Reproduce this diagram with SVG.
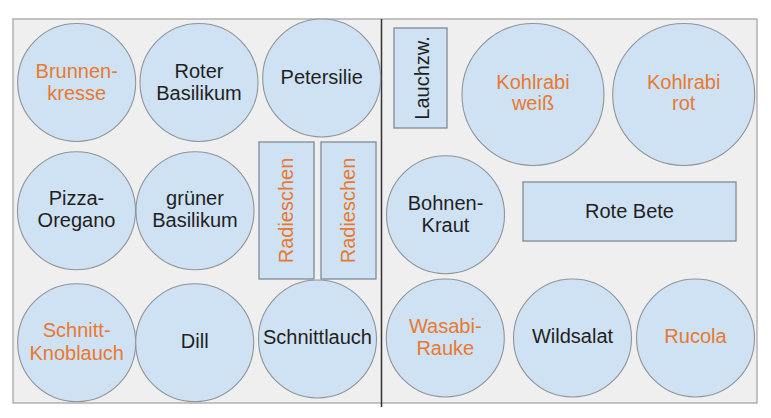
<svg xmlns="http://www.w3.org/2000/svg" width="771" height="418" viewBox="0 0 771 418">
<style>
  .bed { fill: #efefef; stroke: #a6a6a6; stroke-width: 1.3; }
  .c { fill: #cfe2f3; stroke: #8f9499; stroke-width: 1.1; }
  .r { fill: #cfe2f3; stroke: #7f8a94; stroke-width: 1.3; }
  text { font-family: "Liberation Sans", Arial, sans-serif; font-size: 20px; text-anchor: middle; }
  .d { fill: #1f1f1f; }
  .o { fill: #e8792f; }
</style>
<rect width="771" height="418" fill="#ffffff"/>
<g id="bed">
  <rect class="bed" x="13" y="19" width="744" height="384"/>
  <line x1="381.5" y1="19" x2="381.5" y2="407" stroke="#333333" stroke-width="1.5"/>
</g>
<g id="connectors"></g>

<g id="brunnenkresse">
  <circle class="c" cx="76.7" cy="82.5" r="59"/>
  <text class="o" x="76.7" y="78">Brunnen-</text>
  <text class="o" x="76.7" y="100">kresse</text>
</g>
<g id="roter-basilikum">
  <circle class="c" cx="199" cy="82.5" r="59"/>
  <text class="d" x="199" y="78">Roter</text>
  <text class="d" x="199" y="100">Basilikum</text>
</g>
<g id="petersilie">
  <circle class="c" cx="321.7" cy="78" r="59"/>
  <text class="d" x="321.7" y="84">Petersilie</text>
</g>
<g id="pizza-oregano">
  <circle class="c" cx="76.5" cy="210.7" r="59"/>
  <text class="d" x="76.5" y="204.5">Pizza-</text>
  <text class="d" x="76.5" y="226.5">Oregano</text>
</g>
<g id="gruener-basilikum">
  <circle class="c" cx="195" cy="210.7" r="59"/>
  <text class="d" x="195" y="204.5">grüner</text>
  <text class="d" x="195" y="226.5">Basilikum</text>
</g>
<g id="radieschen-1">
  <rect class="r" x="259" y="142" width="55" height="137"/>
  <text class="o" transform="translate(293 210.5) rotate(-90)" x="0" y="0">Radieschen</text>
</g>
<g id="radieschen-2">
  <rect class="r" x="321" y="142" width="55" height="137"/>
  <text class="o" transform="translate(355 210.5) rotate(-90)" x="0" y="0">Radieschen</text>
</g>
<g id="schnitt-knoblauch">
  <circle class="c" cx="76.7" cy="342.7" r="59"/>
  <text class="o" x="76.7" y="337">Schnitt-</text>
  <text class="o" x="76.7" y="359.5">Knoblauch</text>
</g>
<g id="dill">
  <circle class="c" cx="194.7" cy="342.7" r="59"/>
  <text class="d" x="194.7" y="348">Dill</text>
</g>
<g id="schnittlauch">
  <circle class="c" cx="317.5" cy="339" r="59"/>
  <text class="d" x="317.5" y="344">Schnittlauch</text>
</g>

<g id="lauchzw">
  <rect class="r" x="394" y="28" width="53" height="100"/>
  <text class="d" transform="translate(428.5 78) rotate(-90)" x="0" y="0">Lauchzw.</text>
</g>
<g id="kohlrabi-weiss">
  <circle class="c" cx="533" cy="94.5" r="71"/>
  <text class="o" x="533" y="88.5">Kohlrabi</text>
  <text class="o" x="533" y="110">weiß</text>
</g>
<g id="kohlrabi-rot">
  <circle class="c" cx="683.7" cy="94.5" r="71"/>
  <text class="o" x="683.7" y="88.5">Kohlrabi</text>
  <text class="o" x="683.7" y="110">rot</text>
</g>
<g id="bohnen-kraut">
  <circle class="c" cx="445.5" cy="214.7" r="59"/>
  <text class="d" x="445.5" y="210">Bohnen-</text>
  <text class="d" x="445.5" y="232.3">Kraut</text>
</g>
<g id="rote-bete">
  <rect class="r" x="523" y="182" width="213" height="59"/>
  <text class="d" x="629.5" y="218">Rote Bete</text>
</g>
<g id="wasabi-rauke">
  <circle class="c" cx="445.3" cy="338" r="59"/>
  <text class="o" x="445.3" y="333">Wasabi-</text>
  <text class="o" x="445.3" y="354.7">Rauke</text>
</g>
<g id="wildsalat">
  <circle class="c" cx="572.5" cy="338" r="59"/>
  <text class="d" x="572.5" y="343">Wildsalat</text>
</g>
<g id="rucola">
  <circle class="c" cx="695.5" cy="338" r="59"/>
  <text class="o" x="695.5" y="343">Rucola</text>
</g>
</svg>
